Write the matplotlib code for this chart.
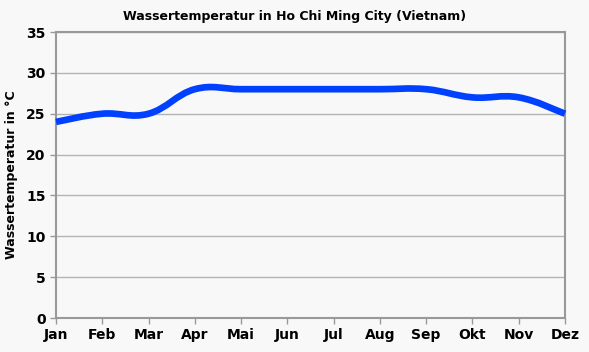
import matplotlib.pyplot as plt
from matplotlib.path import Path
from matplotlib.patches import PathPatch

months = ["Jan", "Feb", "Mar", "Apr", "Mai", "Jun", "Jul", "Aug", "Sep", "Okt", "Nov", "Dez"]
water_temp = [24, 25, 25, 28, 28, 28, 28, 28, 28, 27, 27, 25]

plt.rcParams['font.family'] = ['DejaVu Sans']
plt.rcParams['font.weight'] = 'bold'

fig = plt.figure(figsize=(5.89, 3.52), dpi=100, facecolor="#f8f8f8")
ax = fig.add_axes([56 / 589, 1 - 318 / 352, (565 - 56) / 589, (318 - 32) / 352])
ax.set_facecolor("#f8f8f8")

# smooth curve through the monthly values (cardinal spline as bezier segments)
x = list(range(len(months)))
y = water_temp
verts = [(x[0], y[0])]
codes = [Path.MOVETO]
t = 0.6
for i in range(len(x) - 1):
    x0, y0 = (x[i - 1], y[i - 1]) if i > 0 else (x[i], y[i])
    x3, y3 = (x[i + 2], y[i + 2]) if i + 2 < len(x) else (x[i + 1], y[i + 1])
    c1 = (x[i] + (x[i + 1] - x0) * t / 3, y[i] + (y[i + 1] - y0) * t / 3)
    c2 = (x[i + 1] - (x3 - x[i]) * t / 3, y[i + 1] - (y3 - y[i]) * t / 3)
    verts += [c1, c2, (x[i + 1], y[i + 1])]
    codes += [Path.CURVE4] * 3
ax.add_patch(PathPatch(Path(verts, codes), facecolor="none", edgecolor="#0040ff",
                       linewidth=4.8, capstyle="butt", zorder=3, clip_on=False))

ax.set_xlim(0, 11)
ax.set_ylim(0, 35)
ax.set_xticks(x)
ax.set_xticklabels(months)
ax.set_yticks(range(0, 36, 5))
ax.grid(axis="y", color="#b4b4b4", linewidth=1)
ax.set_axisbelow(True)
for s in ax.spines.values():
    s.set_color("#999999")
    s.set_linewidth(1.5)
ax.tick_params(colors="#999999", labelcolor="black", labelsize=10, length=4, width=1)

ax.set_ylabel("Wassertemperatur in °C", fontsize=9, fontweight="bold", labelpad=6)
fig.suptitle("Wassertemperatur in Ho Chi Ming City (Vietnam)", fontsize=9, fontweight="bold", y=0.972)

fig.savefig("out.png", dpi=100, facecolor="#f8f8f8")
